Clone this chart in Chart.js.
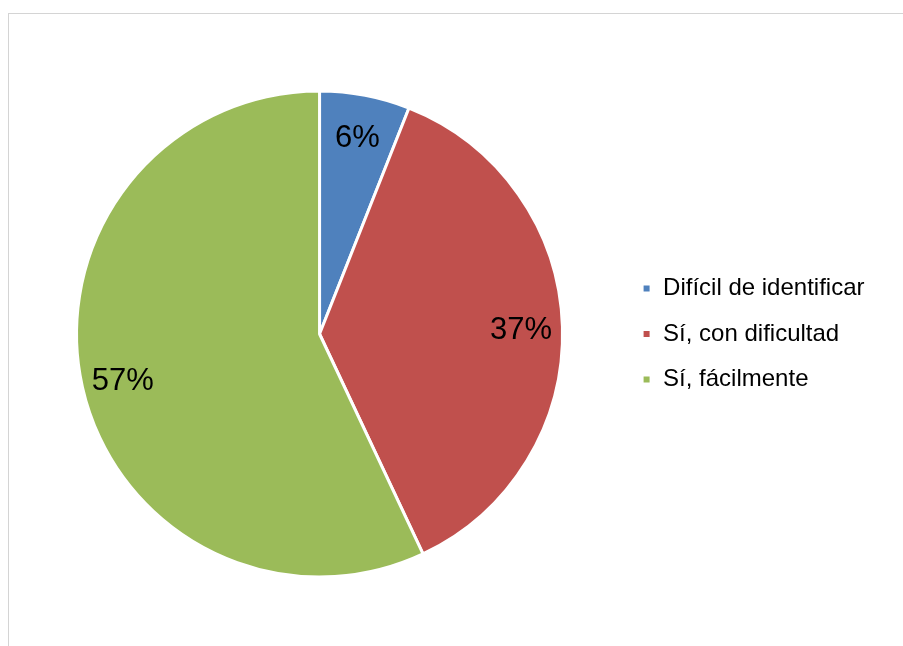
<!DOCTYPE html>
<html lang="es">
<head>
    <meta charset="UTF-8">
    <title>Identificación</title>
    <script src="https://cdn.jsdelivr.net/npm/chart.js"></script>
    <style>
        body {
            margin: 0;
            background-color: white;
            overflow: hidden;
        }
        .frame {
            position: absolute;
            left: 8px;
            top: 13px;
            width: 1000px;
            height: 700px;
            border-top: 1px solid #d4d4d4;
            border-left: 1px solid #d4d4d4;
        }
        .chart-container {
            position: absolute;
            left: 0;
            top: 0;
            width: 903px;
            height: 646px;
        }
    </style>
</head>
<body>
    <div class="frame"></div>
    <div class="chart-container">
        <canvas id="pieChart"></canvas>
    </div>

    <script>
        const categories = ['Difícil de identificar', 'Sí, con dificultad', 'Sí, fácilmente'];
        const values = [6, 37, 57];
        const colors = ['#4F81BD', '#C0504D', '#9BBB59'];

        // porcentajes dentro de cada sector
        const percentLabels = {
            id: 'percentLabels',
            afterDatasetsDraw(chart) {
                const ctx = chart.ctx;
                const data = chart.data.datasets[0].data;
                const total = data.reduce((a, b) => a + b, 0);
                ctx.save();
                ctx.font = '31px "Liberation Sans", Arial, sans-serif';
                ctx.fillStyle = '#000000';
                ctx.textAlign = 'center';
                ctx.textBaseline = 'middle';
                chart.getDatasetMeta(0).data.forEach((arc, i) => {
                    const p = arc.getProps(['x', 'y', 'startAngle', 'endAngle', 'outerRadius']);
                    const mid = (p.startAngle + p.endAngle) / 2;
                    const r = p.outerRadius * 0.83;
                    const x = p.x + Math.cos(mid) * r;
                    const y = p.y + Math.sin(mid) * r + 3;
                    ctx.fillText(Math.round(data[i] / total * 100) + '%', x, y);
                });
                ctx.restore();
            }
        };

        const ctx = document.getElementById('pieChart').getContext('2d');
        new Chart(ctx, {
            type: 'pie',
            data: {
                labels: categories,
                datasets: [{
                    data: values,
                    backgroundColor: colors,
                    borderColor: '#ffffff',
                    borderWidth: 3,
                    hoverOffset: 0
                }]
            },
            options: {
                responsive: true,
                maintainAspectRatio: false,
                animation: false,
                layout: {
                    padding: { left: 18.5, top: 89.5, right: 28.5, bottom: 67.5 }
                },
                plugins: {
                    tooltip: { enabled: false },
                    legend: {
                        position: 'right',
                        labels: {
                            boxWidth: 9,
                            boxHeight: 9,
                            padding: 21.5,
                            color: '#000000',
                            font: {
                                family: '"Liberation Sans", Arial, sans-serif',
                                size: 24
                            }
                        }
                    }
                }
            },
            plugins: [percentLabels]
        });
    </script>
</body>
</html>
